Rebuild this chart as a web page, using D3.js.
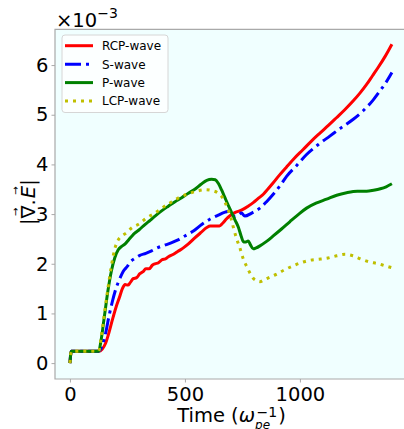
<!DOCTYPE html>
<html>
<head>
<meta charset="utf-8">
<script src="https://cdn.jsdelivr.net/npm/d3@7"></script>
<style>
  body { margin: 0; background: #fff; }
  svg { display: block; font-family: "DejaVu Sans", sans-serif; }
</style>
</head>
<body>
<div id="chart"></div>
<script>
// values, y in units of 1e-3
var rcpT = [0, 6, 125, 140, 155, 170, 185, 200, 215, 228, 240, 252, 262, 275, 290, 304, 318, 330, 345, 358, 370, 385, 400, 415, 428, 450, 470, 490, 515, 543, 570, 595, 610, 630, 650, 665, 680, 700, 717, 735, 754, 775, 797, 820, 841, 860, 884, 910, 942, 975, 1014, 1050, 1087, 1125, 1159, 1195, 1232, 1260, 1290, 1315, 1340, 1370, 1400];
var rcpV = [0, 0.24, 0.24, 0.28, 0.40, 0.62, 0.88, 1.12, 1.32, 1.50, 1.58, 1.57, 1.62, 1.70, 1.72, 1.80, 1.84, 1.90, 1.90, 1.97, 2.00, 2.02, 2.08, 2.10, 2.14, 2.19, 2.25, 2.31, 2.40, 2.52, 2.63, 2.73, 2.76, 2.76, 2.76, 2.82, 2.90, 2.98, 3.03, 3.06, 3.10, 3.16, 3.23, 3.32, 3.40, 3.50, 3.63, 3.78, 3.95, 4.12, 4.30, 4.47, 4.63, 4.79, 4.94, 5.10, 5.28, 5.43, 5.61, 5.78, 5.95, 6.17, 6.42];

var sT = [0, 6, 125, 140, 155, 170, 185, 200, 215, 232, 250, 261, 280, 304, 330, 355, 380, 410, 440, 470, 500, 540, 573, 610, 645, 675, 695, 705, 717, 730, 746, 760, 790, 826, 855, 884, 915, 942, 986, 1029, 1080, 1130, 1180, 1232, 1275, 1319, 1345, 1370, 1400];
var sV = [0, 0.24, 0.24, 0.35, 0.60, 0.95, 1.25, 1.50, 1.68, 1.85, 1.95, 2.03, 2.10, 2.17, 2.21, 2.26, 2.32, 2.37, 2.42, 2.48, 2.56, 2.67, 2.79, 2.90, 2.98, 3.04, 3.06, 3.00, 2.95, 2.97, 3.02, 2.96, 3.02, 3.12, 3.25, 3.40, 3.58, 3.76, 3.98, 4.20, 4.40, 4.57, 4.74, 4.91, 5.08, 5.30, 5.46, 5.62, 5.85];

var pT = [0, 6, 125, 135, 150, 165, 180, 195, 210, 225, 240, 255, 270, 283, 300, 326, 350, 370, 400, 428, 457, 486, 515, 543, 570, 595, 616, 632, 645, 660, 674, 690, 703, 718, 732, 745, 755, 765, 775, 785, 797, 810, 826, 855, 884, 920, 957, 990, 1029, 1070, 1116, 1160, 1203, 1250, 1290, 1320, 1350, 1375, 1400];
var pV = [0, 0.24, 0.24, 0.45, 0.95, 1.45, 1.85, 2.12, 2.28, 2.35, 2.40, 2.48, 2.56, 2.62, 2.68, 2.79, 2.88, 2.96, 3.07, 3.16, 3.25, 3.33, 3.42, 3.50, 3.60, 3.68, 3.70, 3.69, 3.62, 3.48, 3.33, 3.16, 3.03, 2.88, 2.74, 2.55, 2.44, 2.44, 2.46, 2.38, 2.30, 2.32, 2.36, 2.45, 2.56, 2.70, 2.85, 2.98, 3.12, 3.22, 3.30, 3.38, 3.43, 3.46, 3.46, 3.48, 3.51, 3.55, 3.61];

var lcpT = [0, 6, 125, 135, 150, 165, 180, 195, 210, 225, 245, 268, 300, 333, 370, 406, 440, 478, 515, 550, 590, 620, 645, 665, 685, 700, 713, 725, 739, 752, 768, 782, 797, 812, 826, 845, 870, 899, 930, 971, 1010, 1043, 1080, 1116, 1160, 1196, 1230, 1268, 1300, 1341, 1370, 1400];
var lcpV = [0, 0.24, 0.24, 0.50, 1.00, 1.50, 1.95, 2.30, 2.48, 2.56, 2.62, 2.72, 2.80, 2.92, 3.02, 3.14, 3.24, 3.34, 3.41, 3.46, 3.49, 3.47, 3.42, 3.32, 3.12, 2.92, 2.69, 2.50, 2.32, 2.12, 1.95, 1.82, 1.71, 1.66, 1.64, 1.68, 1.73, 1.79, 1.87, 1.96, 2.03, 2.07, 2.09, 2.11, 2.16, 2.19, 2.16, 2.09, 2.04, 2.00, 1.96, 1.92];

var seriesNames = ["RCP-wave", "S-wave", "P-wave", "LCP-wave"];
var xTicks = [0, 500, 1000];
var yTicks = [0, 1, 2, 3, 4, 5, 6];

var W = 404, H = 429;
var plot = {left: 55, top: 29.3, right: 408, bottom: 379};

var svg = d3.select("#chart").append("svg")
    .attr("width", W)
    .attr("height", H);

var x = d3.scaleLinear().domain([-65, 1470]).range([plot.left, plot.right]);
var y = d3.scaleLinear().domain([-0.32, 6.72]).range([plot.bottom, plot.top]);

// axes background
svg.append("rect")
    .attr("x", plot.left).attr("y", plot.top)
    .attr("width", plot.right - plot.left)
    .attr("height", plot.bottom - plot.top)
    .attr("fill", "#f0ffff");

var series = [
    {name: seriesNames[0], t: rcpT, v: rcpV, color: "#ff0000", dash: null},
    {name: seriesNames[1], t: sT, v: sV, color: "#0000ff", dash: "16,5,3,5"},
    {name: seriesNames[2], t: pT, v: pV, color: "#008000", dash: null},
    {name: seriesNames[3], t: lcpT, v: lcpV, color: "#bfbf00", dash: "3,5"}
];

var line = d3.line()
    .x(function(d) { return x(d[0]); })
    .y(function(d) { return y(d[1]); })
    .curve(d3.curveMonotoneX);

svg.append("clipPath").attr("id", "clip")
    .append("rect")
    .attr("x", plot.left).attr("y", plot.top)
    .attr("width", plot.right - plot.left)
    .attr("height", plot.bottom - plot.top);

var lines = svg.append("g").attr("clip-path", "url(#clip)");
series.forEach(function(s) {
    var pts = s.t.map(function(t, i) { return [t, s.v[i]]; });
    lines.append("path")
        .datum(pts)
        .attr("d", line)
        .attr("fill", "none")
        .attr("stroke", s.color)
        .attr("stroke-width", 3)
        .attr("stroke-dasharray", s.dash)
        .attr("stroke-linejoin", "round");
});

// spines (the right one sits just outside the picture)
var spine = "#a9a9a9";
svg.append("path")
    .attr("d", "M" + plot.right + "," + plot.top + "H" + plot.left + "V" + plot.bottom + "H" + plot.right)
    .attr("fill", "none")
    .attr("stroke", spine)
    .attr("stroke-width", 1.2);

// axes
var xAxis = svg.append("g")
    .attr("transform", "translate(0," + plot.bottom + ")")
    .call(d3.axisBottom(x).tickValues(xTicks).tickSize(3.5).tickPadding(4).tickFormat(d3.format("d")));
var yAxis = svg.append("g")
    .attr("transform", "translate(" + plot.left + ",0)")
    .call(d3.axisLeft(y).tickValues(yTicks).tickSize(3.5).tickPadding(3).tickFormat(d3.format("d")));
[xAxis, yAxis].forEach(function(a) {
    a.select(".domain").remove();
    a.selectAll(".tick line").attr("stroke", spine);
    a.selectAll(".tick text")
        .attr("fill", "#000")
        .style("font-family", "DejaVu Sans, sans-serif")
        .style("font-size", "19.5px");
});
xAxis.selectAll(".tick text").attr("dy", "0.73em");

// offset text  x10^-3
var off = svg.append("text").attr("x", 56).attr("y", 26.5)
    .style("font-size", "19.5px");
off.append("tspan").text("\u00d710");
off.append("tspan").attr("dy", -9).style("font-size", "14px").text("\u22123");

// helper: place a piece of text and return its width
function piece(g, str, px, py, size, italic) {
    var t = g.append("text")
        .attr("x", px).attr("y", py)
        .style("font-size", size + "px")
        .text(str);
    if (italic) t.style("font-style", "italic");
    return t.node().getComputedTextLength();
}

// x label: Time (omega_pe^-1)
var xl = svg.append("g");
var cx = 0;
cx += piece(xl, "Time (", cx, 0, 19.5, false);
cx += piece(xl, "\u03c9", cx, 0, 19.5, true);
var wSup = piece(xl, "\u22121", cx + 1.5, -5.5, 14, false);
var wSub = piece(xl, "pe", cx, 6.5, 12, true);
cx += Math.max(wSup + 1.5, wSub) + 1;
cx += piece(xl, ")", cx, 0, 19.5, false);
xl.attr("transform", "translate(" + ((plot.left + plot.right) / 2 - cx / 2) + ",422)");

// y label: |vec nabla . vec E|
var yl = svg.append("g");
var ly = 0, wNab, wE, xNab, xE;
ly += piece(yl, "|", ly, 0, 19.5, false);
xNab = ly;
wNab = piece(yl, "\u2207", ly, 0, 19.5, false);
ly += wNab;
ly += piece(yl, ".", ly, 0, 19.5, false) + 1;
xE = ly;
wE = piece(yl, "E", ly, 0, 19.5, true);
ly += wE;
ly += piece(yl, "|", ly, 0, 19.5, false);
[[xNab, wNab], [xE + 1.5, wE]].forEach(function(p) {
    yl.append("text")
        .attr("x", p[0] + p[1] / 2).attr("y", -16)
        .attr("text-anchor", "middle")
        .style("font-size", "10px")
        .text("\u2192");
});
yl.attr("transform", "translate(35," + ((plot.top + plot.bottom) / 2 - 2) + ") rotate(-90) translate(" + (-ly / 2) + ",0)");

// legend
var leg = svg.append("g").attr("transform", "translate(62,35)");
leg.append("rect")
    .attr("width", 106).attr("height", 77.5)
    .attr("rx", 3)
    .attr("fill", "#fff").attr("fill-opacity", 0.8)
    .attr("stroke", "#d6d6d6").attr("stroke-width", 1);
series.forEach(function(s, i) {
    var ry = 10.7 + i * 18.45;
    leg.append("line")
        .attr("x1", 3).attr("x2", 31)
        .attr("y1", ry).attr("y2", ry)
        .attr("stroke", s.color)
        .attr("stroke-width", 3)
        .attr("stroke-dasharray", s.dash);
    leg.append("text")
        .attr("x", 40).attr("y", ry + 4.4)
        .style("font-size", "12px")
        .text(s.name);
});
</script>
</body>
</html>
